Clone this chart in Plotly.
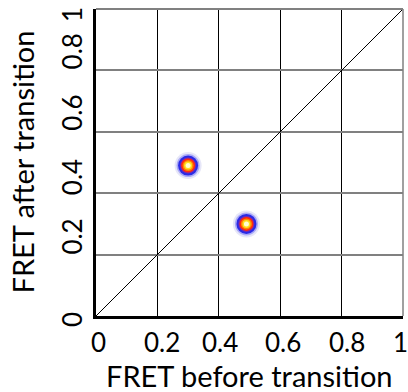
import plotly.graph_objects as go

# ---- data ----
fret_before = [0.30, 0.49]
fret_after = [0.49, 0.30]
diag_x = [0, 1]
diag_y = [0, 1]
tick_vals = [0, 0.2, 0.4, 0.6, 0.8, 1]
tick_text = ["0", "0.2", "0.4", "0.6", "0.8", "1"]

# ---- styles ----
# per-label pixel nudges (reference labels are not exactly centred on ticks)
x_label_nudge = [2, 5, 1, 3, 5, -3]
y_label_nudge = [-4, 18, 16, 19, 19, -6]

# concentric layers for the density blobs (size px, colour, opacity)
layers = [
    (27, "#d6d6f4", 0.6),
    (23, "#9a9af6", 0.8),
    (20, "#2a2ae6", 1.0),
    (16, "#7a2ab0", 1.0),
    (14, "#ff2a10", 1.0),
    (11, "#ff8a00", 1.0),
    (8, "#ffe020", 1.0),
    (5, "#ffffd0", 1.0),
]

FONT = "Lato"
TICK_SIZE = 26
TITLE_SIZE = 29

fig = go.Figure()
fig.add_trace(go.Scatter(x=diag_x, y=diag_y, mode="lines",
                         line=dict(color="black", width=1), hoverinfo="skip",
                         showlegend=False))
for size, col, op in layers:
    fig.add_trace(go.Scatter(x=fret_before, y=fret_after, mode="markers",
                             marker=dict(size=size, color=col, opacity=op,
                                         line=dict(width=0)),
                             showlegend=False))

axis_common = dict(range=[0, 1], tickvals=tick_vals, showticklabels=False,
                   showline=True, linecolor="black", linewidth=3,
                   zeroline=False, ticks="")

annotations = []
for v, t, n in zip(tick_vals, tick_text, x_label_nudge):
    annotations.append(dict(text=t, xref="x", yref="paper", x=v, y=0,
                            xanchor="center", yanchor="middle",
                            xshift=n, yshift=-26, showarrow=False,
                            font=dict(family=FONT, size=TICK_SIZE, color="black")))
for v, t, n in zip(tick_vals, tick_text, y_label_nudge):
    annotations.append(dict(text=t, xref="paper", yref="y", x=0, y=v,
                            xanchor="center", yanchor="middle", textangle=-90,
                            xshift=-24, yshift=n, showarrow=False,
                            font=dict(family=FONT, size=TICK_SIZE, color="black")))
annotations += [
    dict(text="FRET before transition", xref="paper", yref="paper",
         x=0.5, y=0, yshift=-59, xanchor="center", yanchor="middle",
         showarrow=False, font=dict(family=FONT, size=TITLE_SIZE, color="black")),
    dict(text="FRET after transition", xref="paper", yref="paper",
         x=0, y=0.5, xshift=-74, xanchor="center", yanchor="middle",
         textangle=-90, showarrow=False,
         font=dict(family=FONT, size=TITLE_SIZE, color="black")),
]

fig.update_layout(
    width=408, height=392,
    margin=dict(l=96, r=5, t=9, b=76),
    paper_bgcolor="white", plot_bgcolor="white",
    xaxis=dict(**axis_common, showgrid=True, gridcolor="black", gridwidth=1),
    yaxis=dict(**axis_common, showgrid=True, gridcolor="#808080", gridwidth=2),
    shapes=[
        dict(type="line", xref="paper", yref="paper", x0=0, x1=1, y0=1, y1=1,
             line=dict(color="#808080", width=2)),
        dict(type="line", xref="paper", yref="paper", x0=1, x1=1, y0=0, y1=1,
             line=dict(color="#808080", width=1.5)),
    ],
    annotations=annotations,
)

fig.write_html("out.html")
